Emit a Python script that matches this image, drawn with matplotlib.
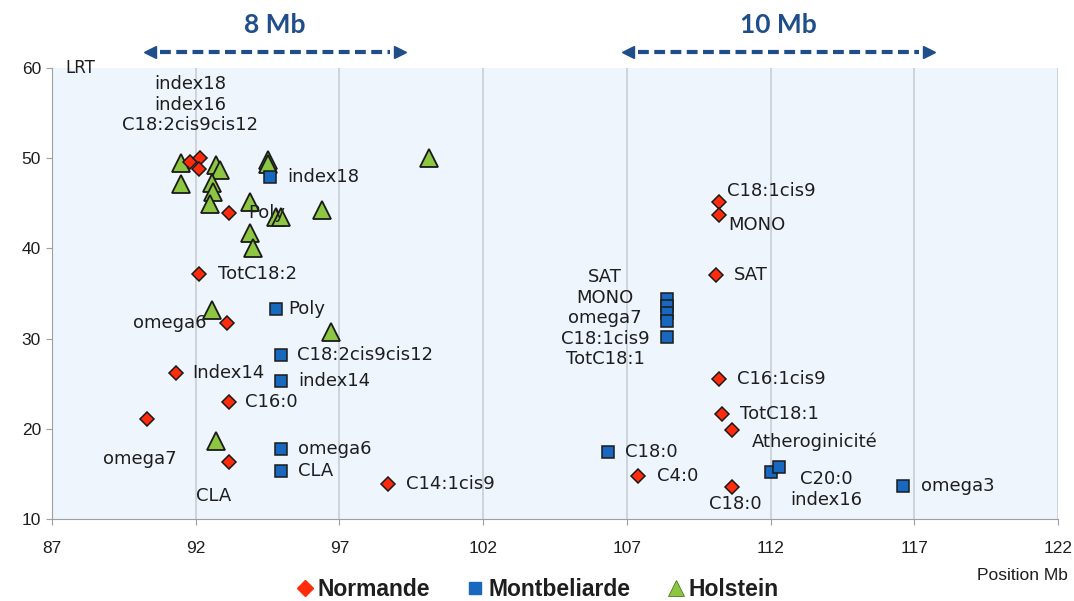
import matplotlib
matplotlib.use("Agg")
import matplotlib.pyplot as plt
from matplotlib.lines import Line2D

# ---------------- data ----------------
norm_x = [91.8, 92.15, 92.1, 93.16, 92.1, 93.1, 91.3, 93.16, 90.3, 93.16, 98.7,
          110.2, 110.2, 110.1, 110.2, 110.3, 110.66, 107.4, 110.66]
norm_y = [49.6, 50.0, 48.8, 43.9, 37.2, 31.7, 26.2, 23.0, 21.1, 16.3, 13.9,
          45.1, 43.7, 37.05, 25.5, 21.6, 19.9, 14.8, 13.5]
norm_labels = ['', 'index18\nindex16\nC18:2cis9cis12', '', 'Poly', 'TotC18:2', 'omega6',
               'Index14', 'C16:0', 'omega7', 'CLA', 'C14:1cis9',
               'C18:1cis9', 'MONO', 'SAT', 'C16:1cis9', 'TotC18:1', 'Atheroginicité',
               'C4:0', 'C18:0']

mont_x = [94.6, 94.8, 94.97, 94.97, 94.97, 94.97,
          108.4, 108.4, 108.4, 108.4, 108.4, 106.35, 112.0, 112.3, 116.6]
mont_y = [47.9, 33.3, 28.2, 25.3, 17.8, 15.3,
          34.4, 33.6, 32.8, 31.95, 30.2, 17.4, 15.2, 15.8, 13.7]
mont_labels = ['index18', 'Poly', 'C18:2cis9cis12', 'index14', 'omega6', 'CLA',
               '', '', 'SAT\nMONO\nomega7\nC18:1cis9\nTotC18:1', '', '',
               'C18:0', '', 'C20:0\nindex16', 'omega3']

hol_x = [91.5, 92.7, 92.85, 91.5, 92.57, 92.6, 92.5, 93.9, 94.5, 94.5, 94.8, 94.95,
         93.9, 94.0, 96.4, 100.1, 92.57, 96.7, 92.7]
hol_y = [49.5, 49.3, 48.7, 47.1, 47.25, 46.2, 44.9, 45.1, 49.8, 49.4, 43.5, 43.5,
         41.7, 40.0, 44.3, 50.0, 33.2, 30.7, 18.65]

series_names = ['Normande', 'Montbeliarde', 'Holstein']
x_ticks = [87, 92, 97, 102, 107, 112, 117, 122]
y_ticks = [10, 20, 30, 40, 50, 60]
spans = [(90.4, 99.1, '8 Mb'), (107.05, 117.5, '10 Mb')]

# ---------------- layout of labels (pixel offsets, ha, va) ----------------
PX = 1 / 1.3889  # px -> points at 100 dpi
norm_pos = {
    1: (-10, 24, 'center', 'bottom'),
    3: (19, 0, 'left', 'center'),
    4: (19, 0, 'left', 'center'),
    5: (-21, 0, 'right', 'center'),
    6: (17, 0, 'left', 'center'),
    7: (16, 0, 'left', 'center'),
    8: (-7, -40, 'center', 'center'),
    9: (-15, -34, 'center', 'center'),
    10: (18, 0, 'left', 'center'),
    11: (8, 11, 'left', 'center'),
    12: (9, -10, 'left', 'center'),
    13: (18, 0, 'left', 'center'),
    14: (18, 0, 'left', 'center'),
    15: (18, 0, 'left', 'center'),
    16: (20, -12, 'left', 'center'),
    17: (19, 0, 'left', 'center'),
    18: (3, -17, 'center', 'center'),
}
mont_pos = {
    0: (17, 0, 'left', 'center'),
    1: (12, 0, 'left', 'center'),
    2: (16, 0, 'left', 'center'),
    3: (17, 0, 'left', 'center'),
    4: (17, 0, 'left', 'center'),
    5: (17, 0, 'left', 'center'),
    8: (-62, -5, 'center', 'center'),
    11: (17, 0, 'left', 'center'),
    13: (47, -23, 'center', 'center'),
    14: (18, 0, 'left', 'center'),
}

RED = '#FF2B0A'
BLUE = '#1768BE'
GREEN = '#8DC641'
NAVY = '#1F4E8A'
TXT = '#1E1E1E'
NARROW = ['Liberation Sans Narrow', 'Liberation Sans', 'DejaVu Sans']

fig = plt.figure(figsize=(10.74, 6.01), dpi=100)
ax = fig.add_axes([52 / 1074, 1 - 519 / 601, (1058 - 52) / 1074, (519 - 68) / 601])
ax.set_facecolor('#EEF5FD')

ax.set_xlim(87, 122)
ax.set_ylim(10, 60)
ax.set_xticks(x_ticks)
ax.set_yticks(y_ticks)
ax.grid(axis='x', color='#C9CED6', linewidth=1.2)
ax.set_axisbelow(True)
for s in ['top', 'right']:
    ax.spines[s].set_visible(False)
for s in ['left', 'bottom']:
    ax.spines[s].set_color('#A0A0A0')
ax.tick_params(axis='both', colors='#A0A0A0', labelcolor=TXT, length=4)
ax.tick_params(axis='x', pad=12)
ax.tick_params(axis='y', pad=4)
for lab in ax.get_xticklabels() + ax.get_yticklabels():
    lab.set_family(NARROW)
    lab.set_fontsize(12.5)

ax.plot(hol_x, hol_y, '^', ms=13, mfc=GREEN, mec='#1A1A1A', mew=1.3,
        ls='none', label=series_names[2], zorder=3)
ax.plot(mont_x, mont_y, 's', ms=8.5, mfc=BLUE, mec='#1A1A1A', mew=1.1,
        ls='none', label=series_names[1], zorder=4)
ax.plot(norm_x, norm_y, 'D', ms=7, mfc=RED, mec='#1A1A1A', mew=1.1,
        ls='none', label=series_names[0], zorder=5)

def put_labels(xs, ys, labels, pos):
    for i, (x, y, t) in enumerate(zip(xs, ys, labels)):
        if not t:
            continue
        dx, dy, ha, va = pos[i]
        ax.annotate(t, (x, y), xytext=(dx * PX, dy * PX), textcoords='offset points',
                    ha=ha, va=va, fontsize=13, color=TXT, linespacing=1.18,
                    family='DejaVu Sans', zorder=6)

put_labels(norm_x, norm_y, norm_labels, norm_pos)
put_labels(mont_x, mont_y, mont_labels, mont_pos)

# LRT axis title
ax.text(0.013, 1.0, 'LRT', transform=ax.transAxes, fontsize=12,
        family='DejaVu Sans', color=TXT, ha='left', va='center')
fig.text(1068 / 1074, 1 - 576 / 601, 'Position Mb', fontsize=12.5, family=NARROW,
         color=TXT, ha='right', va='center')

# span arrows
for x0, x1, t in spans:
    ax.plot([x0 + 0.35, x1 - 0.35], [1.035, 1.035], transform=ax.get_xaxis_transform(),
            color=NAVY, lw=3, ls=(0, (2.6, 1.3)), clip_on=False)
    ax.plot([x0], [1.035], marker='<', ms=8, color=NAVY, transform=ax.get_xaxis_transform(),
            clip_on=False)
    ax.plot([x1], [1.035], marker='>', ms=8, color=NAVY, transform=ax.get_xaxis_transform(),
            clip_on=False)
    ax.text((x0 + x1) / 2, 1.095, t, transform=ax.get_xaxis_transform(), ha='center',
            va='center', fontsize=19, fontweight='bold', color=NAVY, family='Lato')

# legend
handles = [Line2D([], [], marker='D', ms=8, mfc=RED, mec=RED, ls='none'),
           Line2D([], [], marker='s', ms=9, mfc=BLUE, mec=BLUE, ls='none'),
           Line2D([], [], marker='^', ms=11, mfc=GREEN, mec='#4a7a20', mew=0.6, ls='none')]
leg = fig.legend(handles, series_names, loc='center', bbox_to_anchor=(0.5, 1 - 590 / 601),
                 ncol=3, frameon=False, handlelength=0.8, handletextpad=0.15,
                 columnspacing=1.6, prop={'family': NARROW, 'size': 16.5, 'weight': 'bold'})
for t in leg.get_texts():
    t.set_color(TXT)

fig.savefig('out.png', dpi=100)
